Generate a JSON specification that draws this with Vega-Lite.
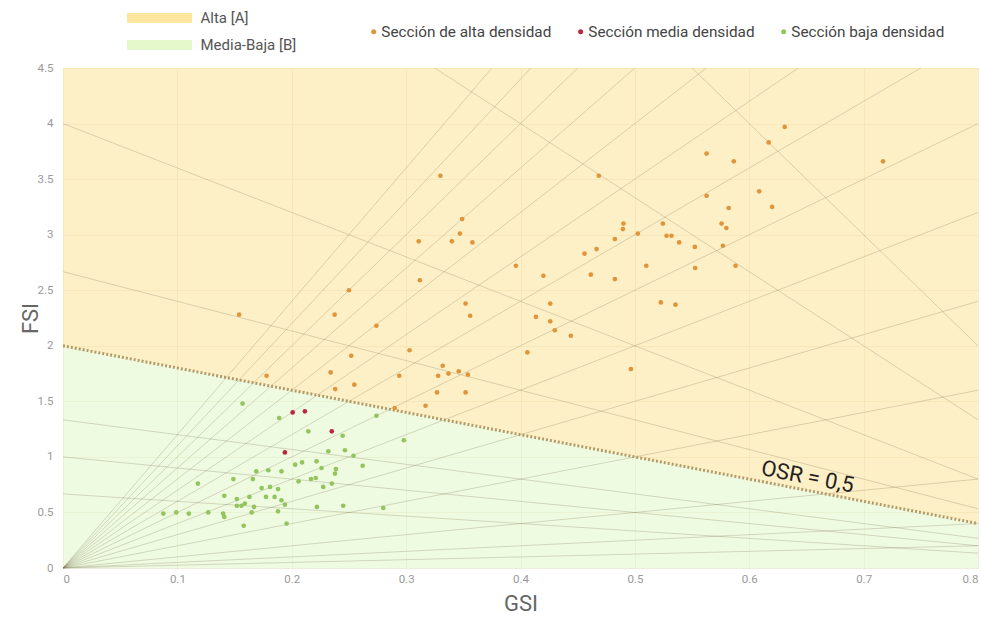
{
  "$schema": "https://vega.github.io/schema/vega-lite/v6.json",
  "width": 915,
  "height": 500,
  "autosize": {"type": "none"},
  "padding": {"left": 63, "top": 68, "right": 3, "bottom": 51},
  "background": "white",
  "config": {
    "font": "Roboto",
    "view": {"stroke": null},
    "axis": {
      "labelFont": "Roboto", "labelFontSize": 11.5, "labelColor": "#9a9a9a",
      "titleFont": "Roboto", "titleFontWeight": "normal", "titleColor": "#666666",
      "gridColor": "#bfae80", "gridOpacity": 0.25, "domain": false, "ticks": false
    },
    "legend": {"labelFont": "Roboto", "padding": 0, "titlePadding": 0, "labelLimit": 0}
  },
  "datasets": {
    "zones": [
      {"zona": "Alta [A]", "GSI": 0, "lo": 2, "hi": 4.5},
      {"zona": "Alta [A]", "GSI": 0.8, "lo": 0.4, "hi": 4.5},
      {"zona": "Media-Baja [B]", "GSI": 0, "lo": 0, "hi": 2},
      {"zona": "Media-Baja [B]", "GSI": 0.8, "lo": 0, "hi": 0.4}
    ],
    "lines": [
      {"id": "L0.25", "GSI": 0, "FSI": 0}, {"id": "L0.25", "GSI": 0.8, "FSI": 0.2},
      {"id": "L0.5", "GSI": 0, "FSI": 0}, {"id": "L0.5", "GSI": 0.8, "FSI": 0.4},
      {"id": "L1", "GSI": 0, "FSI": 0}, {"id": "L1", "GSI": 0.8, "FSI": 0.8},
      {"id": "L2", "GSI": 0, "FSI": 0}, {"id": "L2", "GSI": 0.8, "FSI": 1.6},
      {"id": "L3", "GSI": 0, "FSI": 0}, {"id": "L3", "GSI": 0.8, "FSI": 2.4},
      {"id": "L4", "GSI": 0, "FSI": 0}, {"id": "L4", "GSI": 0.8, "FSI": 3.2},
      {"id": "L5", "GSI": 0, "FSI": 0}, {"id": "L5", "GSI": 0.8, "FSI": 4.0},
      {"id": "L6", "GSI": 0, "FSI": 0}, {"id": "L6", "GSI": 0.75, "FSI": 4.5},
      {"id": "L7", "GSI": 0, "FSI": 0}, {"id": "L7", "GSI": 0.642857, "FSI": 4.5},
      {"id": "L8", "GSI": 0, "FSI": 0}, {"id": "L8", "GSI": 0.5625, "FSI": 4.5},
      {"id": "L9", "GSI": 0, "FSI": 0}, {"id": "L9", "GSI": 0.5, "FSI": 4.5},
      {"id": "L10", "GSI": 0, "FSI": 0}, {"id": "L10", "GSI": 0.45, "FSI": 4.5},
      {"id": "L11", "GSI": 0, "FSI": 0}, {"id": "L11", "GSI": 0.409091, "FSI": 4.5},
      {"id": "L12", "GSI": 0, "FSI": 0}, {"id": "L12", "GSI": 0.375, "FSI": 4.5},
      {"id": "O0.1", "GSI": 0.55, "FSI": 4.5}, {"id": "O0.1", "GSI": 0.8, "FSI": 2.0},
      {"id": "O0.15", "GSI": 0.325, "FSI": 4.5}, {"id": "O0.15", "GSI": 0.8, "FSI": 1.3333},
      {"id": "O0.25", "GSI": 0, "FSI": 4.0}, {"id": "O0.25", "GSI": 0.8, "FSI": 0.8},
      {"id": "O0.375", "GSI": 0, "FSI": 2.6667}, {"id": "O0.375", "GSI": 0.8, "FSI": 0.5333},
      {"id": "O0.75", "GSI": 0, "FSI": 1.3333}, {"id": "O0.75", "GSI": 0.8, "FSI": 0.2667},
      {"id": "O1", "GSI": 0, "FSI": 1.0}, {"id": "O1", "GSI": 0.8, "FSI": 0.2},
      {"id": "O1.5", "GSI": 0, "FSI": 0.6667}, {"id": "O1.5", "GSI": 0.8, "FSI": 0.1333}
    ],
    "osr": [
      {"GSI": 0, "FSI": 2}, {"GSI": 0.8, "FSI": 0.4}
    ],
    "label": [
      {"GSI": 0.651, "FSI": 0.82, "texto": "OSR = 0,5"}
    ],
    "points": [
      {"tipo": "Sección de alta densidad", "GSI": 0.330, "FSI": 3.53},
      {"tipo": "Sección de alta densidad", "GSI": 0.4685, "FSI": 3.53},
      {"tipo": "Sección de alta densidad", "GSI": 0.349, "FSI": 3.14},
      {"tipo": "Sección de alta densidad", "GSI": 0.347, "FSI": 3.01},
      {"tipo": "Sección de alta densidad", "GSI": 0.340, "FSI": 2.94},
      {"tipo": "Sección de alta densidad", "GSI": 0.358, "FSI": 2.93},
      {"tipo": "Sección de alta densidad", "GSI": 0.311, "FSI": 2.94},
      {"tipo": "Sección de alta densidad", "GSI": 0.456, "FSI": 2.83},
      {"tipo": "Sección de alta densidad", "GSI": 0.4665, "FSI": 2.87},
      {"tipo": "Sección de alta densidad", "GSI": 0.396, "FSI": 2.72},
      {"tipo": "Sección de alta densidad", "GSI": 0.420, "FSI": 2.63},
      {"tipo": "Sección de alta densidad", "GSI": 0.4615, "FSI": 2.64},
      {"tipo": "Sección de alta densidad", "GSI": 0.312, "FSI": 2.59},
      {"tipo": "Sección de alta densidad", "GSI": 0.250, "FSI": 2.50},
      {"tipo": "Sección de alta densidad", "GSI": 0.426, "FSI": 2.38},
      {"tipo": "Sección de alta densidad", "GSI": 0.352, "FSI": 2.38},
      {"tipo": "Sección de alta densidad", "GSI": 0.356, "FSI": 2.27},
      {"tipo": "Sección de alta densidad", "GSI": 0.4135, "FSI": 2.26},
      {"tipo": "Sección de alta densidad", "GSI": 0.426, "FSI": 2.22},
      {"tipo": "Sección de alta densidad", "GSI": 0.430, "FSI": 2.14},
      {"tipo": "Sección de alta densidad", "GSI": 0.444, "FSI": 2.09},
      {"tipo": "Sección de alta densidad", "GSI": 0.154, "FSI": 2.28},
      {"tipo": "Sección de alta densidad", "GSI": 0.2375, "FSI": 2.28},
      {"tipo": "Sección de alta densidad", "GSI": 0.274, "FSI": 2.18},
      {"tipo": "Sección de alta densidad", "GSI": 0.252, "FSI": 1.91},
      {"tipo": "Sección de alta densidad", "GSI": 0.303, "FSI": 1.96},
      {"tipo": "Sección de alta densidad", "GSI": 0.406, "FSI": 1.94},
      {"tipo": "Sección de alta densidad", "GSI": 0.178, "FSI": 1.73},
      {"tipo": "Sección de alta densidad", "GSI": 0.234, "FSI": 1.76},
      {"tipo": "Sección de alta densidad", "GSI": 0.2547, "FSI": 1.65},
      {"tipo": "Sección de alta densidad", "GSI": 0.238, "FSI": 1.61},
      {"tipo": "Sección de alta densidad", "GSI": 0.294, "FSI": 1.73},
      {"tipo": "Sección de alta densidad", "GSI": 0.332, "FSI": 1.82},
      {"tipo": "Sección de alta densidad", "GSI": 0.328, "FSI": 1.73},
      {"tipo": "Sección de alta densidad", "GSI": 0.337, "FSI": 1.75},
      {"tipo": "Sección de alta densidad", "GSI": 0.346, "FSI": 1.77},
      {"tipo": "Sección de alta densidad", "GSI": 0.354, "FSI": 1.74},
      {"tipo": "Sección de alta densidad", "GSI": 0.327, "FSI": 1.58},
      {"tipo": "Sección de alta densidad", "GSI": 0.352, "FSI": 1.58},
      {"tipo": "Sección de alta densidad", "GSI": 0.290, "FSI": 1.44},
      {"tipo": "Sección de alta densidad", "GSI": 0.317, "FSI": 1.46},
      {"tipo": "Sección de alta densidad", "GSI": 0.631, "FSI": 3.97},
      {"tipo": "Sección de alta densidad", "GSI": 0.617, "FSI": 3.83},
      {"tipo": "Sección de alta densidad", "GSI": 0.5627, "FSI": 3.73},
      {"tipo": "Sección de alta densidad", "GSI": 0.5865, "FSI": 3.66},
      {"tipo": "Sección de alta densidad", "GSI": 0.717, "FSI": 3.66},
      {"tipo": "Sección de alta densidad", "GSI": 0.5627, "FSI": 3.35},
      {"tipo": "Sección de alta densidad", "GSI": 0.6087, "FSI": 3.39},
      {"tipo": "Sección de alta densidad", "GSI": 0.582, "FSI": 3.24},
      {"tipo": "Sección de alta densidad", "GSI": 0.620, "FSI": 3.25},
      {"tipo": "Sección de alta densidad", "GSI": 0.490, "FSI": 3.10},
      {"tipo": "Sección de alta densidad", "GSI": 0.4895, "FSI": 3.05},
      {"tipo": "Sección de alta densidad", "GSI": 0.5245, "FSI": 3.10},
      {"tipo": "Sección de alta densidad", "GSI": 0.5026, "FSI": 3.01},
      {"tipo": "Sección de alta densidad", "GSI": 0.5758, "FSI": 3.10},
      {"tipo": "Sección de alta densidad", "GSI": 0.580, "FSI": 3.06},
      {"tipo": "Sección de alta densidad", "GSI": 0.4825, "FSI": 2.96},
      {"tipo": "Sección de alta densidad", "GSI": 0.5277, "FSI": 2.99},
      {"tipo": "Sección de alta densidad", "GSI": 0.532, "FSI": 2.99},
      {"tipo": "Sección de alta densidad", "GSI": 0.5387, "FSI": 2.93},
      {"tipo": "Sección de alta densidad", "GSI": 0.5524, "FSI": 2.89},
      {"tipo": "Sección de alta densidad", "GSI": 0.577, "FSI": 2.90},
      {"tipo": "Sección de alta densidad", "GSI": 0.4825, "FSI": 2.60},
      {"tipo": "Sección de alta densidad", "GSI": 0.510, "FSI": 2.72},
      {"tipo": "Sección de alta densidad", "GSI": 0.5527, "FSI": 2.70},
      {"tipo": "Sección de alta densidad", "GSI": 0.588, "FSI": 2.72},
      {"tipo": "Sección de alta densidad", "GSI": 0.5227, "FSI": 2.39},
      {"tipo": "Sección de alta densidad", "GSI": 0.5355, "FSI": 2.37},
      {"tipo": "Sección de alta densidad", "GSI": 0.4965, "FSI": 1.79},
      {"tipo": "Sección media densidad", "GSI": 0.2008, "FSI": 1.40},
      {"tipo": "Sección media densidad", "GSI": 0.2115, "FSI": 1.41},
      {"tipo": "Sección media densidad", "GSI": 0.235, "FSI": 1.23},
      {"tipo": "Sección media densidad", "GSI": 0.194, "FSI": 1.04},
      {"tipo": "Sección baja densidad", "GSI": 0.157, "FSI": 1.48},
      {"tipo": "Sección baja densidad", "GSI": 0.189, "FSI": 1.35},
      {"tipo": "Sección baja densidad", "GSI": 0.2145, "FSI": 1.23},
      {"tipo": "Sección baja densidad", "GSI": 0.2445, "FSI": 1.19},
      {"tipo": "Sección baja densidad", "GSI": 0.232, "FSI": 1.05},
      {"tipo": "Sección baja densidad", "GSI": 0.2465, "FSI": 1.06},
      {"tipo": "Sección baja densidad", "GSI": 0.254, "FSI": 1.01},
      {"tipo": "Sección baja densidad", "GSI": 0.262, "FSI": 0.92},
      {"tipo": "Sección baja densidad", "GSI": 0.2217, "FSI": 0.96},
      {"tipo": "Sección baja densidad", "GSI": 0.209, "FSI": 0.95},
      {"tipo": "Sección baja densidad", "GSI": 0.203, "FSI": 0.93},
      {"tipo": "Sección baja densidad", "GSI": 0.226, "FSI": 0.90},
      {"tipo": "Sección baja densidad", "GSI": 0.2386, "FSI": 0.89},
      {"tipo": "Sección baja densidad", "GSI": 0.2378, "FSI": 0.85},
      {"tipo": "Sección baja densidad", "GSI": 0.1795, "FSI": 0.88},
      {"tipo": "Sección baja densidad", "GSI": 0.169, "FSI": 0.87},
      {"tipo": "Sección baja densidad", "GSI": 0.191, "FSI": 0.87},
      {"tipo": "Sección baja densidad", "GSI": 0.166, "FSI": 0.80},
      {"tipo": "Sección baja densidad", "GSI": 0.149, "FSI": 0.80},
      {"tipo": "Sección baja densidad", "GSI": 0.221, "FSI": 0.81},
      {"tipo": "Sección baja densidad", "GSI": 0.2168, "FSI": 0.80},
      {"tipo": "Sección baja densidad", "GSI": 0.206, "FSI": 0.78},
      {"tipo": "Sección baja densidad", "GSI": 0.235, "FSI": 0.76},
      {"tipo": "Sección baja densidad", "GSI": 0.2275, "FSI": 0.73},
      {"tipo": "Sección baja densidad", "GSI": 0.118, "FSI": 0.76},
      {"tipo": "Sección baja densidad", "GSI": 0.1737, "FSI": 0.72},
      {"tipo": "Sección baja densidad", "GSI": 0.181, "FSI": 0.73},
      {"tipo": "Sección baja densidad", "GSI": 0.188, "FSI": 0.71},
      {"tipo": "Sección baja densidad", "GSI": 0.141, "FSI": 0.65},
      {"tipo": "Sección baja densidad", "GSI": 0.152, "FSI": 0.62},
      {"tipo": "Sección baja densidad", "GSI": 0.163, "FSI": 0.64},
      {"tipo": "Sección baja densidad", "GSI": 0.1775, "FSI": 0.64},
      {"tipo": "Sección baja densidad", "GSI": 0.185, "FSI": 0.64},
      {"tipo": "Sección baja densidad", "GSI": 0.191, "FSI": 0.61},
      {"tipo": "Sección baja densidad", "GSI": 0.194, "FSI": 0.57},
      {"tipo": "Sección baja densidad", "GSI": 0.152, "FSI": 0.56},
      {"tipo": "Sección baja densidad", "GSI": 0.156, "FSI": 0.56},
      {"tipo": "Sección baja densidad", "GSI": 0.159, "FSI": 0.58},
      {"tipo": "Sección baja densidad", "GSI": 0.167, "FSI": 0.55},
      {"tipo": "Sección baja densidad", "GSI": 0.165, "FSI": 0.50},
      {"tipo": "Sección baja densidad", "GSI": 0.222, "FSI": 0.55},
      {"tipo": "Sección baja densidad", "GSI": 0.245, "FSI": 0.56},
      {"tipo": "Sección baja densidad", "GSI": 0.280, "FSI": 0.54},
      {"tipo": "Sección baja densidad", "GSI": 0.274, "FSI": 1.37},
      {"tipo": "Sección baja densidad", "GSI": 0.298, "FSI": 1.15},
      {"tipo": "Sección baja densidad", "GSI": 0.0877, "FSI": 0.49},
      {"tipo": "Sección baja densidad", "GSI": 0.099, "FSI": 0.50},
      {"tipo": "Sección baja densidad", "GSI": 0.110, "FSI": 0.49},
      {"tipo": "Sección baja densidad", "GSI": 0.127, "FSI": 0.50},
      {"tipo": "Sección baja densidad", "GSI": 0.140, "FSI": 0.49},
      {"tipo": "Sección baja densidad", "GSI": 0.141, "FSI": 0.46},
      {"tipo": "Sección baja densidad", "GSI": 0.188, "FSI": 0.51},
      {"tipo": "Sección baja densidad", "GSI": 0.158, "FSI": 0.38},
      {"tipo": "Sección baja densidad", "GSI": 0.1955, "FSI": 0.40}
    ]
  },
  "layer": [
    {
      "data": {"name": "zones"},
      "mark": {"type": "area", "opacity": 0.6},
      "encoding": {
        "x": {
          "field": "GSI", "type": "quantitative",
          "scale": {"domain": [0, 0.8], "nice": false, "zero": false},
          "axis": {
            "title": "GSI", "titleFontSize": 22, "values": [0, 0.1, 0.2, 0.3, 0.4, 0.5, 0.6, 0.7, 0.8],
            "format": "~g", "labelPadding": 5, "titlePadding": 9, "grid": true
          }
        },
        "y": {
          "field": "lo", "type": "quantitative",
          "scale": {"domain": [0, 4.5], "nice": false},
          "axis": {
            "title": "FSI", "titleFontSize": 22, "values": [0, 0.5, 1, 1.5, 2, 2.5, 3, 3.5, 4, 4.5],
            "format": "~g", "labelPadding": 10, "titlePadding": -5, "grid": true
          }
        },
        "y2": {"field": "hi"},
        "fill": {
          "field": "zona", "type": "nominal",
          "scale": {"domain": ["Alta [A]", "Media-Baja [B]"], "range": ["#fde6a0", "#e4f8cc"]},
          "legend": {
            "title": null, "orient": "none", "legendX": 89, "legendY": -57.5,
            "direction": "vertical",
            "symbolType": "M-6.5,-1H6.5V1H-6.5Z", "symbolSize": 100, "symbolOpacity": 1,
            "symbolStrokeWidth": 0, "labelOffset": 33.5, "labelFontSize": 15, "labelColor": "#555555",
            "rowPadding": 11
          }
        }
      }
    },
    {
      "data": {"name": "lines"},
      "mark": {"type": "line", "color": "#786e50", "opacity": 0.26, "strokeWidth": 1},
      "encoding": {
        "x": {"field": "GSI", "type": "quantitative"},
        "y": {"field": "FSI", "type": "quantitative"},
        "detail": {"field": "id", "type": "nominal"}
      }
    },
    {
      "data": {"name": "osr"},
      "mark": {"type": "line", "color": "#b39a66", "strokeWidth": 3, "strokeDash": [2, 2]},
      "encoding": {
        "x": {"field": "GSI", "type": "quantitative"},
        "y": {"field": "FSI", "type": "quantitative"}
      }
    },
    {
      "data": {"name": "points"},
      "mark": {"type": "point", "filled": true, "size": 22, "opacity": 1},
      "encoding": {
        "x": {"field": "GSI", "type": "quantitative"},
        "y": {"field": "FSI", "type": "quantitative"},
        "color": {
          "field": "tipo", "type": "nominal",
          "scale": {
            "domain": ["Sección de alta densidad", "Sección media densidad", "Sección baja densidad"],
            "range": ["#e0953a", "#b8283e", "#93c45e"]
          },
          "legend": {
            "title": null, "orient": "none", "legendX": 303, "legendY": -44,
            "direction": "horizontal", "symbolType": "circle", "symbolSize": 25,
            "labelOffset": 0, "columnPadding": 21, "labelFontSize": 15.3, "labelColor": "#444444"
          }
        }
      }
    },
    {
      "data": {"name": "label"},
      "mark": {"type": "text", "fontSize": 22, "angle": 11, "color": "#222222", "align": "center", "baseline": "middle", "font": "Roboto"},
      "encoding": {
        "x": {"field": "GSI", "type": "quantitative"},
        "y": {"field": "FSI", "type": "quantitative"},
        "text": {"field": "texto"}
      }
    }
  ]
}
